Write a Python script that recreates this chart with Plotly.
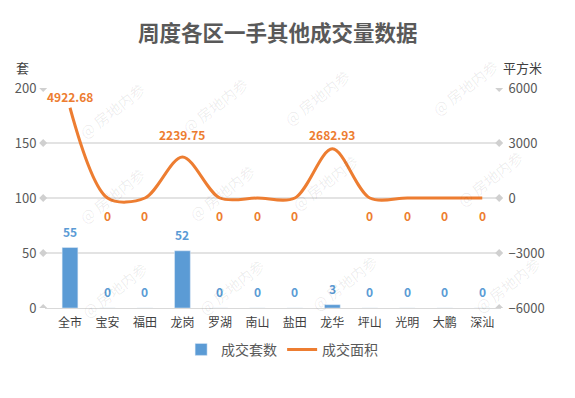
import plotly.graph_objects as go

categories = ["全市", "宝安", "福田", "龙岗", "罗湖", "南山", "盐田", "龙华", "坪山", "光明", "大鹏", "深汕"]
units = [55, 0, 0, 52, 0, 0, 0, 3, 0, 0, 0, 0]
area = [4922.68, 0, 0, 2239.75, 0, 0, 0, 2682.93, 0, 0, 0, 0]
area_labels = ["4922.68", "0", "0", "2239.75", "0", "0", "0", "2682.93", "0", "0", "0", "0"]
left_ticks = [0, 50, 100, 150, 200]

BLUE = "#5B9BD5"
ORANGE = "#ED7D31"
FONT = "Noto Sans CJK SC"
CLEAR = "rgba(0,0,0,0)"

fig = go.Figure()
fig.add_trace(go.Bar(
    x=categories, y=units, name="成交套数", marker_color=BLUE, width=0.42,
))
fig.add_trace(go.Scatter(
    x=categories, y=area, name="成交面积", yaxis="y2", mode="lines",
    line=dict(color=ORANGE, width=3, shape="spline", smoothing=0.9),
    cliponaxis=False,
))

annotations = []
# bar value labels
for c, v in zip(categories, units):
    annotations.append(dict(x=c, y=v, xref="x", yref="y", text=f"<b>{v}</b>", showarrow=False,
                            yanchor="bottom", yshift=6,
                            font=dict(color=BLUE, size=12, family=FONT)))
# line value labels (label offsets as in the original layout)
above_shift = {"4922.68": 1, "2239.75": 12, "2682.93": 4}
for c, v, t in zip(categories, area, area_labels):
    if v != 0:
        annotations.append(dict(x=c, y=v, xref="x", yref="y2", text=f"<b>{t}</b>", showarrow=False,
                                yanchor="bottom", yshift=above_shift.get(t, 4),
                                font=dict(color=ORANGE, size=12, family=FONT)))
    else:
        annotations.append(dict(x=c, y=v, xref="x", yref="y2", text=f"<b>{t}</b>", showarrow=False,
                                yanchor="top", yshift=-7,
                                font=dict(color=ORANGE, size=12, family=FONT)))

annotations += [
    dict(text="套", xref="paper", yref="paper", x=-0.05, y=1.095, showarrow=False,
         font=dict(size=13, color="#404040", family=FONT), xanchor="center", yanchor="middle"),
    dict(text="平方米", xref="paper", yref="paper", x=1.048, y=1.095, showarrow=False,
         font=dict(size=13, color="#404040", family=FONT), xanchor="center", yanchor="middle"),
]
wm_pos = [(72, 75), (215, 70), (357, 62), (505, 52),
          (72, 195), (222, 192), (365, 182), (530, 178),
          (75, 325), (232, 322), (385, 318), (548, 320)]
for px, py in wm_pos:
    annotations.append(dict(text="@ 房地内参", xref="paper", yref="paper",
                            x=(px - 45) / 456, y=(308 - py) / 220, showarrow=False, textangle=-38,
                            font=dict(size=15, color="rgba(0,0,0,0.075)", family=FONT)))

# small diamond markers at gridline ends (decoration)
shapes = []
for t in left_ticks:
    for xp in (-0.004, 0.996):
        dx = 4 / 456
        dy = 4 / 220 * 200
        shapes.append(dict(type="path", xref="paper", yref="y",
                           path=f"M {xp-dx},{t} L {xp},{t+dy} L {xp+dx},{t} L {xp},{t-dy} Z",
                           fillcolor="#D0D0D0", line=dict(width=0), layer="above"))

fig.update_layout(
    width=575, height=398,
    margin=dict(l=45, r=74, t=88, b=90),
    paper_bgcolor="white", plot_bgcolor="white",
    title=dict(text="<b>周度各区一手其他成交量数据</b>", x=0.483, xanchor="center", y=0.915, yanchor="middle",
               font=dict(size=21.5, color="#595959", family=FONT)),
    font=dict(family=FONT, color="#595959", size=12),
    xaxis=dict(type="category", showgrid=False, showline=True, linecolor="#D9D9D9", linewidth=1,
               ticks="outside", ticklen=4, tickcolor=CLEAR,
               tickfont=dict(size=12, color="#404040", family=FONT)),
    yaxis=dict(range=[0, 200], tickvals=left_ticks, showgrid=True, gridcolor="#E3E3E3", gridwidth=1.5,
               zeroline=False, showline=False, ticks="outside", ticklen=5, tickcolor=CLEAR,
               tickfont=dict(size=13, color="#595959")),
    yaxis2=dict(range=[-6000, 6000], dtick=3000, overlaying="y", side="right", showgrid=False,
                zeroline=False, showline=False, ticks="outside", ticklen=4, tickcolor=CLEAR,
                tickfont=dict(size=13, color="#595959")),
    legend=dict(orientation="h", x=0.52, xanchor="center", y=-0.19, yanchor="middle",
                font=dict(size=14, color="#595959", family=FONT), itemwidth=30,
                traceorder="normal"),
    showlegend=True,
    annotations=annotations,
    shapes=shapes,
)

fig.write_html("out.html")
